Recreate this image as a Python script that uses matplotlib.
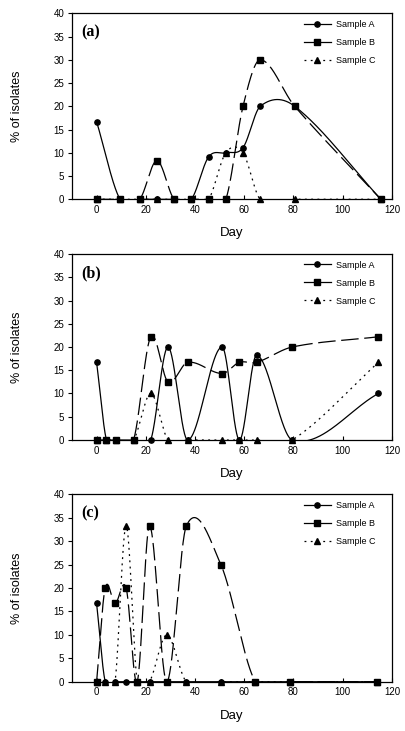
import numpy as np
import matplotlib
matplotlib.use("Agg")
import matplotlib.pyplot as plt
from matplotlib.lines import Line2D

plt.rcParams['font.family'] = ['Liberation Sans', 'DejaVu Sans']

# ---------------- data ----------------
a_days = [0, 9.5, 17.5, 24.5, 31.5, 38.5, 45.5, 52.5, 59.5, 66.5, 80.5, 115.5]
a_A = [16.7, 0, 0, 0, 0, 0, 9.1, 10, 11.1, 20, 20, 0]
a_B = [0, 0, 0, 8.3, 0, 0, 0, 0, 20, 30, 20, 0]
a_C = [0, 0, 0, 0, 0, 0, 0, 10, 10, 0, 0, 0]

b_days = [0, 4, 8, 15, 22, 29, 37, 51, 58, 65, 79.5, 114.5]
b_A = [16.7, 0, 0, 0, 0, 20, 0, 20, 0, 18.2, 0, 10]
b_B = [0, 0, 0, 0, 22.2, 12.5, 16.7, 14.3, 16.7, 16.7, 20, 22.2]
b_C = [0, 0, 0, 0, 10, 0, 0, 0, 0, 0, 0, 16.7]

c_days = [0, 3.5, 7.5, 12, 16.5, 21.5, 28.5, 36.5, 50.5, 64.5, 78.5, 114]
c_A = [16.7, 0, 0, 0, 0, 0, 0, 0, 0, 0, 0, 0]
c_B = [0, 20, 16.7, 20, 0, 33.3, 0, 33.3, 25, 0, 0, 0]
c_C = [0, 0, 0, 33.3, 0, 0, 10, 0, 0, 0, 0, 0]

panel_labels = ["(a)", "(b)", "(c)"]
series_names = ["Sample A", "Sample B", "Sample C"]
x_ticks = [0, 20, 40, 60, 80, 100, 120]
y_ticks = [0, 5, 10, 15, 20, 25, 30, 35, 40]


def smooth_curve(x, y, per_seg=120):
    """Cubic Hermite (Catmull-Rom style) curve through the data points."""
    x = np.asarray(x, float)
    y = np.asarray(y, float)
    n = len(x)
    m = np.zeros(n)
    m[1:-1] = (y[2:] - y[:-2]) / (x[2:] - x[:-2])
    m[0] = (y[1] - y[0]) / (x[1] - x[0])
    m[-1] = (y[-1] - y[-2]) / (x[-1] - x[-2])
    xs_all, ys_all = [], []
    for i in range(n - 1):
        h = x[i + 1] - x[i]
        t = np.linspace(0, 1, per_seg)
        h00 = 2 * t ** 3 - 3 * t ** 2 + 1
        h10 = t ** 3 - 2 * t ** 2 + t
        h01 = -2 * t ** 3 + 3 * t ** 2
        h11 = t ** 3 - t ** 2
        ys = h00 * y[i] + h10 * h * m[i] + h01 * y[i + 1] + h11 * h * m[i + 1]
        xs_all.append(x[i] + t * h)
        ys_all.append(ys)
    return np.concatenate(xs_all), np.concatenate(ys_all)


styles = [
    dict(ls='-', marker='o'),
    dict(ls=(0, (14, 4.5)), marker='s'),
    dict(ls=(0, (1.5, 3.5)), marker='^'),
]
legend_ls = ['-', '-', (0, (1.5, 3.5))]

fig = plt.figure(figsize=(4.06, 7.31), dpi=100)
positions = [
    [0.1773, 0.7274, 0.788, 0.2544],
    [0.1773, 0.3981, 0.788, 0.2544],
    [0.1773, 0.0674, 0.788, 0.2564],
]
panels = [
    (a_days, [a_A, a_B, a_C]),
    (b_days, [b_A, b_B, b_C]),
    (c_days, [c_A, c_B, c_C]),
]

for idx, (pos, (days, series)) in enumerate(zip(positions, panels)):
    ax = fig.add_axes(pos)
    for s, st in zip(series, styles):
        xs, ys = smooth_curve(days, s)
        ax.plot(xs, ys, color='black', lw=0.9, linestyle=st['ls'])
        ax.plot(days, s, linestyle='none', marker=st['marker'], color='black',
                ms=3.8, clip_on=False, zorder=4)
    ax.set_xlim(-10, 120)
    ax.set_ylim(0, 40)
    ax.set_xticks(x_ticks)
    ax.set_yticks(y_ticks)
    ax.tick_params(axis='x', direction='in', length=3, labelsize=7, pad=4, width=0.8)
    ax.tick_params(axis='y', direction='out', length=3, labelsize=7, pad=2.5, width=0.8)
    for sp in ax.spines.values():
        sp.set_linewidth(0.9)
    ax.set_xlabel("Day", fontsize=9.5)
    ax.set_ylabel("% of isolates", fontsize=9)
    ax.xaxis.set_label_coords(0.5, -0.15)
    ax.yaxis.set_label_coords(-0.152, 0.5)
    ax.text(0.028, 0.94, panel_labels[idx], transform=ax.transAxes,
            fontfamily='Liberation Serif', fontweight='bold', fontsize=11.5,
            ha='left', va='top')
    handles = [Line2D([], [], color='black', lw=0.9, linestyle=ls,
                      marker=st['marker'], ms=3.8)
               for ls, st in zip(legend_ls, styles)]
    ax.legend(handles, series_names, loc='upper left', bbox_to_anchor=(0.725, 0.965),
              frameon=False, fontsize=6.5, handlelength=3.0, handletextpad=0.5,
              labelspacing=1.0, borderpad=0, borderaxespad=0)

fig.savefig("out.png", dpi=100)
